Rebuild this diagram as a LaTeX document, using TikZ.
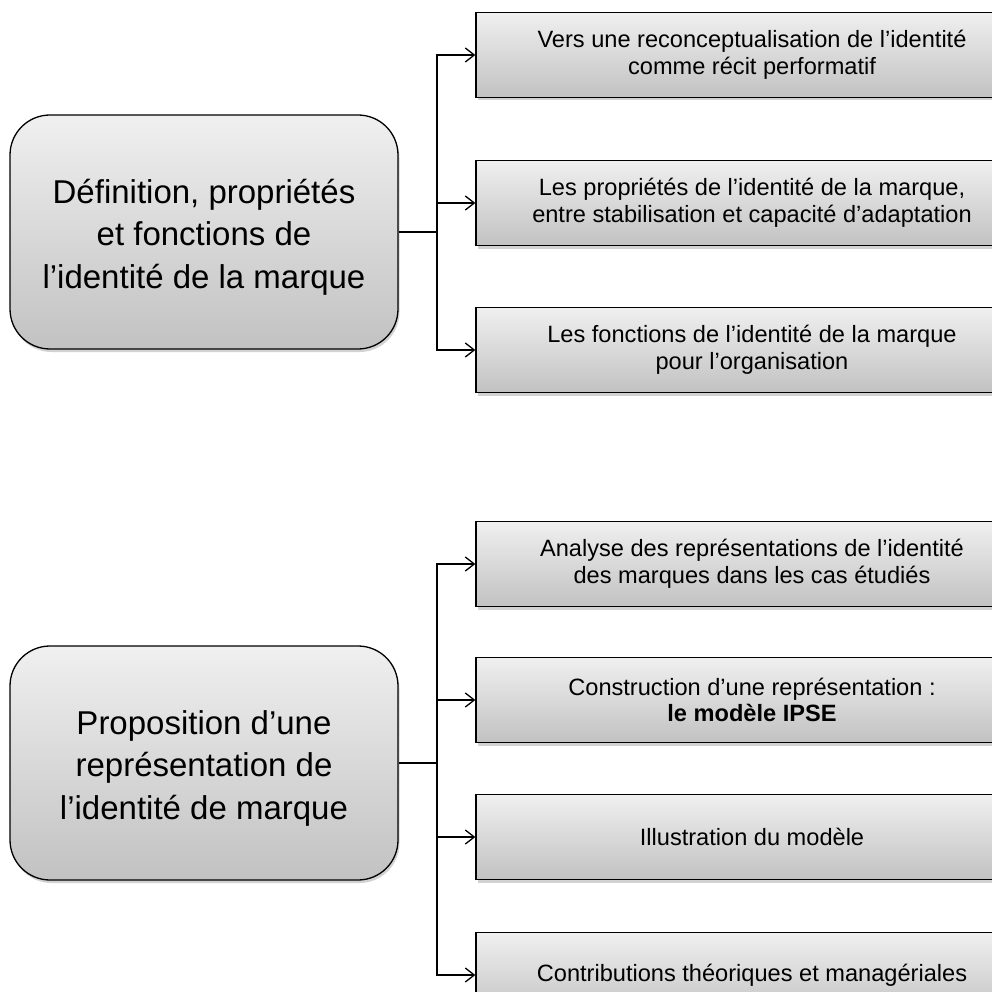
\documentclass[tikz,border=0pt]{standalone}
\usepackage{fontspec}
\setmainfont{Liberation Sans}
\usetikzlibrary{shadows,arrows.meta}
\begin{document}
\begin{tikzpicture}[x=1pt,y=-1pt,
  boxfill/.style={draw=black, line width=1.3pt, top color=gray!12, bottom color=gray!48,
     drop shadow={opacity=0.35, shadow xshift=1.5pt, shadow yshift=-3pt}},
  mainbox/.style={boxfill, rounded corners=40pt, minimum width=388pt, minimum height=234pt,
     inner sep=0pt},
  maintext/.style={align=center, inner sep=0pt, font=\fontsize{33}{42.5}\selectfont},
  subbox/.style={boxfill, minimum width=552pt, minimum height=85pt,
     inner sep=0pt, align=center, font=\fontsize{23.6}{26.5}\selectfont},
  conn/.style={line width=1.3pt, draw=black},
  arr/.style={conn, -{Straight Barb[length=9pt,width=14pt,line width=1.3pt]}}
]
\clip (0,0) rectangle (992,992);
\fill[white] (0,0) rectangle (992,992);

% top group
\node[mainbox] (L1) at (204,232) {};
\node[maintext] (L1t) at ([yshift=-5pt]L1.center) {Définition, propriétés\\et fonctions de\\l’identité de la marque};
\node[subbox] (a1) at (752,55) {Vers une reconceptualisation de l’identité\\comme récit performatif};
\node[subbox] (a2) at (752,203) {Les propriétés de l’identité de la marque,\\entre stabilisation et capacité d’adaptation};
\node[subbox] (a3) at (752,350) {Les fonctions de l’identité de la marque\\pour l’organisation};
\coordinate (j1) at (437,232);
\draw[conn] (L1.east) -- (j1);
\draw[arr] (j1) |- (a1.west);
\draw[arr] (j1) |- (a2.west);
\draw[arr] (j1) |- (a3.west);

% bottom group
\node[mainbox] (L2) at (204,763) {};
\node[maintext] (L2t) at ([yshift=-5pt]L2.center) {Proposition d’une\\représentation de\\l’identité de marque};
\node[subbox] (b1) at (752,564) {Analyse des représentations de l’identité\\des marques dans les cas étudiés};
\node[subbox] (b2) at (752,700) {Construction d’une représentation :\\\textbf{le modèle IPSE}};
\node[subbox] (b3) at (752,837) {Illustration du modèle};
\node[subbox] (b4) at (752,975) {Contributions théoriques et managériales};
\coordinate (j2) at (437,763);
\draw[conn] (L2.east) -- (j2);
\draw[arr] (j2) |- (b1.west);
\draw[arr] (j2) |- (b2.west);
\draw[arr] (j2) |- (b3.west);
\draw[arr] (j2) |- (b4.west);
\end{tikzpicture}
\end{document}
